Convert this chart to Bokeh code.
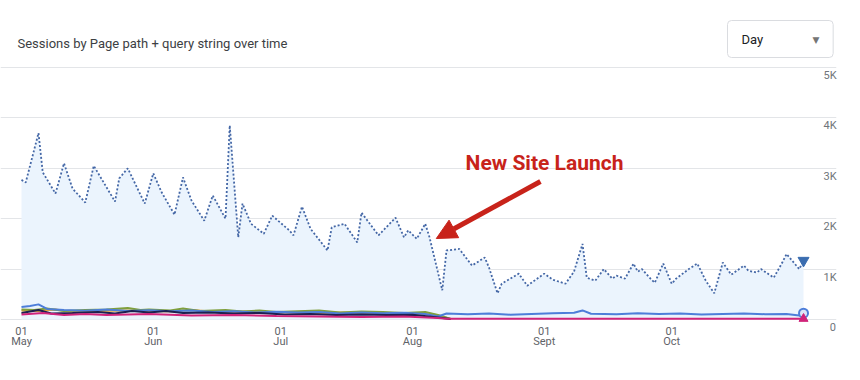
from bokeh.plotting import figure
from bokeh.models import Range1d, FixedTicker, Label, Arrow, NormalHead, LinearAxis
from bokeh.embed import file_html
from bokeh.resources import INLINE

# ---- data (x = days since 01 May) ----
main_days = [0, 1, 4, 5, 8, 10, 12, 15, 17, 22, 23, 25, 29, 31, 33, 36, 38, 40, 43, 45,
             48, 49, 51, 52, 54, 57, 59, 63, 64, 66, 68, 72, 73, 76, 79, 80, 84, 88, 90, 91,
             93, 95, 96, 99, 100, 103, 106, 109, 110, 112, 113, 117, 119, 123, 125, 128, 130, 132, 133, 135,
             137, 139, 140, 142, 144, 145, 146, 148, 149, 151, 153, 154, 157, 159, 161, 163, 165, 167, 170, 171,
             173, 174, 177, 179, 180, 183, 184]
main_vals = [2770, 2720, 3700, 2920, 2500, 3100, 2600, 2320, 3050, 2340, 2800, 3000, 2300, 2900, 2520, 2080, 2820, 2360, 1960, 2460,
             2000, 3850, 1630, 2300, 1900, 1700, 2060, 1770, 1670, 2240, 1800, 1370, 1830, 1900, 1530, 2120, 1670, 2020, 1630, 1770,
             1600, 1900, 1630, 580, 1370, 1400, 1070, 1230, 1030, 520, 710, 910, 670, 910, 790, 710, 950, 1500, 830, 770,
             1000, 810, 870, 810, 1110, 950, 1000, 810, 730, 1110, 710, 810, 1000, 1110, 770, 520, 1130, 890, 1070, 970,
             930, 1000, 830, 1130, 1300, 1000, 1170]

blue_days = [0, 2, 4, 6, 10, 15, 20, 25, 30, 35, 40, 45, 50, 55, 60, 65, 70, 75, 80, 85, 90, 95, 98, 100, 105,
             110, 115, 120, 125, 130, 132, 134, 140, 145, 150, 155, 160, 165, 170, 175, 180, 183, 184]
blue_vals = [250, 270, 300, 210, 190, 175, 200, 170, 185, 165, 180, 150, 165, 140, 155, 140, 150, 120, 140, 125,
             135, 110, 60, 120, 105, 120, 95, 110, 125, 135, 180, 115, 105, 125, 110, 120, 100, 110, 120, 105, 110, 80, 125]

green_days = [0, 3, 6, 10, 15, 20, 25, 28, 30, 35, 38, 42, 48, 52, 56, 60, 65, 70, 75, 80, 85, 90, 95, 98, 101]
green_vals = [200, 190, 220, 170, 190, 200, 230, 190, 200, 180, 220, 170, 190, 160, 180, 150, 165, 180, 140, 160,
              150, 130, 150, 90, 10]

orange_days = [0, 4, 8, 12, 18, 24, 30, 36, 40, 46, 52, 58, 64, 70, 76, 82, 88, 94, 98, 101]
orange_vals = [180, 170, 200, 150, 170, 180, 170, 160, 190, 150, 160, 140, 150, 130, 140, 120, 130, 120, 80, 10]

navy_days = [0, 4, 7, 12, 18, 22, 26, 30, 34, 38, 44, 50, 56, 62, 68, 74, 80, 86, 92, 98, 101]
navy_vals = [130, 190, 120, 130, 150, 120, 170, 140, 170, 130, 140, 120, 130, 100, 110, 90, 100, 90, 95, 40, 10]

magenta_days = [0, 5, 10, 15, 20, 25, 30, 40, 50, 60, 70, 80, 90, 98, 100, 110, 120, 130, 140, 150, 160, 170, 180, 184]
magenta_vals = [100, 130, 90, 110, 90, 100, 110, 80, 90, 70, 60, 50, 60, 30, 15, 15, 15, 15, 15, 15, 15, 15, 15, 15]

month_ticks = [0, 31, 61, 92, 123, 153]
month_labels = ["01\nMay", "01\nJun", "01\nJul", "01\nAug", "01\nSept", "01\nOct"]
y_ticks = [0, 1000, 2000, 3000, 4000, 5000]
y_labels = ["0", "1K", "2K", "3K", "4K", "5K"]

title_text = "Sessions by Page path + query string over time"
menu_text = "Day"
note_text = "New Site Launch"
note_x, note_y = 123.06, 3110
arrow_from = (122.1, 2738)
arrow_to = (97.6, 1607)

# ---- layout constants ----
PX_PER_UNIT = 0.0504          # vertical pixels per session
LABEL_DROP = 8 / PX_PER_UNIT  # y tick labels sit ~8px under their grid line
Y0, Y1 = -198.4, 6329.4
X0, X1 = -4.94, 191.76

p = figure(width=844, height=364, y_axis_location=None,
           x_range=Range1d(X0, X1), y_range=Range1d(Y0, Y1),
           output_backend="svg", toolbar_location=None,
           min_border_left=0, min_border_top=0, min_border_bottom=35, min_border_right=8)
p.outline_line_color = None
p.background_fill_color = "white"
p.border_fill_color = "white"
p.xgrid.grid_line_color = None

yt = FixedTicker(ticks=y_ticks)
p.ygrid.ticker = yt
p.ygrid.grid_line_color = "#e3e5e8"
p.ygrid.grid_line_width = 1

p.extra_y_ranges = {"lab": Range1d(Y0 + LABEL_DROP, Y1 + LABEL_DROP)}
ya = LinearAxis(y_range_name="lab", ticker=FixedTicker(ticks=y_ticks))
ya.major_label_overrides = {t: l.rjust(2, "\u2007") for t, l in zip(y_ticks, y_labels)}
ya.axis_line_color = None
ya.major_tick_line_color = None
ya.minor_tick_line_color = None
ya.major_tick_out = 0
ya.major_label_standoff = -13
ya.major_label_text_font = "Roboto"
ya.major_label_text_font_size = "11px"
ya.major_label_text_color = "#70757a"
p.add_layout(ya, "right")

xa = p.xaxis[0]
xa.ticker = FixedTicker(ticks=month_ticks)
xa.major_label_overrides = {t: l for t, l in zip(month_ticks, month_labels)}
xa.axis_line_color = None
xa.major_tick_line_color = None
xa.minor_tick_line_color = None
xa.major_tick_out = 0
xa.major_label_standoff = -5
xa.major_label_text_font = "Roboto"
xa.major_label_text_font_size = "11px"
xa.major_label_text_color = "#5f6368"
xa.major_label_text_line_height = 0.83

# fill + lines
p.varea(x=main_days, y1=[0] * len(main_days), y2=main_vals, fill_color="#ebf4fd")
p.line(orange_days, orange_vals, line_color="#e2a33a", line_width=2)
p.line(green_days, green_vals, line_color="#7f9f3c", line_width=2)
p.line(blue_days, blue_vals, line_color="#4d7ed9", line_width=2)
p.line(navy_days, navy_vals, line_color="#1c2050", line_width=2)
p.line(magenta_days, magenta_vals, line_color="#d0237a", line_width=2)
p.line(main_days, main_vals, line_color="#4467a6", line_width=1.8, line_dash="2 2")

p.scatter([main_days[-1]], [main_vals[-1]], marker="inverted_triangle", size=11,
          fill_color="#3a6db0", line_color="#3a6db0")
p.scatter([blue_days[-1]], [blue_vals[-1]], marker="circle", size=9,
          fill_color="#dbe5f7", line_color="#4d7ed9", line_width=2)
p.scatter([magenta_days[-1]], [magenta_vals[-1]], marker="triangle", size=9,
          fill_color="#d0237a", line_color="#d0237a")

# annotation
p.add_layout(Arrow(x_start=arrow_from[0], y_start=arrow_from[1], x_end=arrow_to[0], y_end=arrow_to[1],
                   line_color="#c8231a", line_width=5,
                   end=NormalHead(size=20, fill_color="#c8231a", line_color="#c8231a")))
p.add_layout(Label(x=note_x, y=note_y, text=note_text, text_color="#c8231a",
                   text_font="Roboto", text_font_style="bold", text_align="center",
                   text_font_size="21px", text_baseline="alphabetic"))

# header texts (screen units, measured from frame's bottom-left)
p.add_layout(Label(x=17, y=286.5, x_units="screen", y_units="screen", text=title_text,
                   text_font="Roboto", text_font_size="13px", text_color="#3c4043",
                   text_baseline="alphabetic"))
p.add_layout(Label(x=727, y=290.5, x_units="screen", y_units="screen", text=menu_text,
                   text_font="Roboto", text_font_size="13px", text_color="#202124",
                   text_baseline="middle",
                   border_line_color="#dadce0", border_line_width=1,
                   background_fill_color="white", border_radius=4,
                   padding=dict(left=14, right=70, top=11, bottom=11)))
p.add_layout(Label(x=812, y=290, x_units="screen", y_units="screen", text="▼",
                   text_font="DejaVu Sans", text_font_size="9px", text_color="#757575",
                   text_baseline="middle"))

open("out.html", "w").write(file_html(p, INLINE))
